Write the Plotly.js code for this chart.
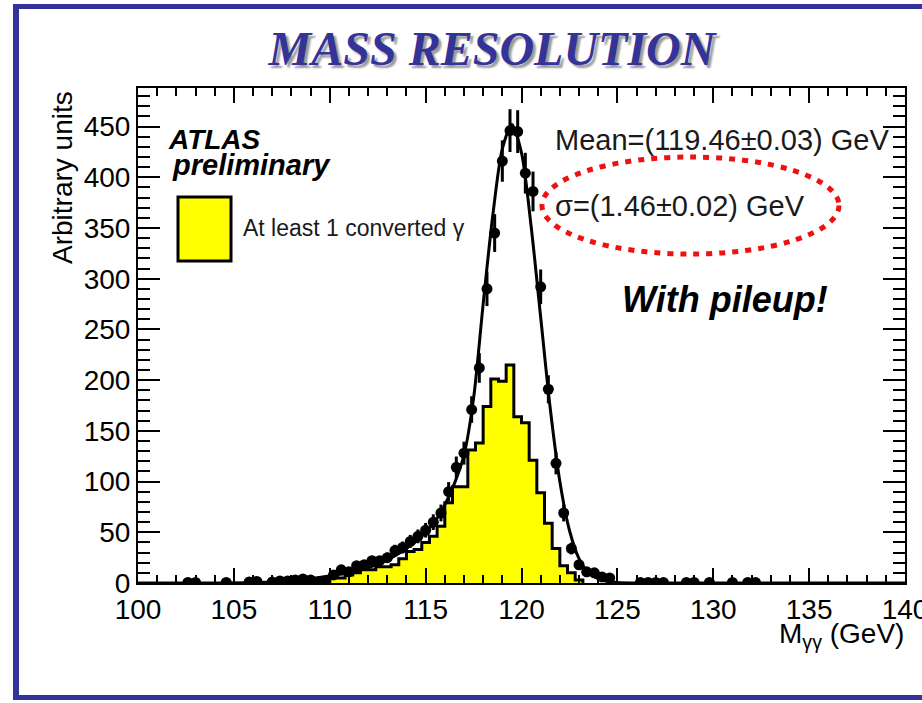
<!DOCTYPE html>
<html>
<head>
<meta charset="utf-8">
<script src="https://cdn.plot.ly/plotly-3.0.1.min.js"></script>
<style>
  html, body { margin: 0; padding: 0; background: #ffffff; }
  #chart { width: 922px; height: 703px; }
</style>
</head>
<body>
<div id="chart"></div>
<script>
// ---- data ----
// histogram "At least 1 converted gamma" (bin edges in GeV, heights)
const histEdges = [105.6,106.0,106.4,106.8,107.2,107.6,108.0,108.4,108.8,109.2,109.6,110.0,110.4,110.8,111.2,111.6,112.0,112.4,112.8,113.2,113.6,114.0,114.4,114.8,115.2,115.6,116.0,116.4,116.8,117.2,117.6,118.0,118.4,118.8,119.2,119.6,120.0,120.4,120.8,121.2,121.6,122.0,122.4,122.8,123.2];
const histHeights = [0.5,1,0.5,0.5,1,2,1,3,4,3,4,8,5,8,10,13,13,16,16,18,24,31,33,40,46,56,79,95,95,131,138,174,201,199,215,164,158,121,89,59,34,17,10,3];

// all-events data points
const ptX = [102.6,103.0,104.6,105.8,106.2,107.0,107.4,107.8,108.2,108.6,109.0,109.4,109.8,110.2,110.6,111.0,111.4,111.8,112.2,112.6,113.0,113.4,113.8,114.2,114.6,115.0,115.4,115.8,116.2,116.6,117.0,117.4,117.8,118.2,118.6,119.0,119.4,119.8,120.2,120.6,121.0,121.4,121.8,122.2,122.6,123.0,123.4,123.8,124.2,124.6,126.2,126.6,127.0,127.4,128.6,129.0,129.8,131.0,131.8,132.2];
const ptY = [0.5,0.5,0.5,1,1.5,1,2,2,3,4,3,1,2,8,13,11,17,18,22,22,25,32,35,41,46,52,60,69,90,114,128,171,212,290,345,416,446,445,404,386,292,191,118,69,34,18,11,10,6,5,0.5,0.5,0.5,0.5,0.5,0.5,0.5,0.5,0.5,0.5];
const ptErr = [0.7,0.7,0.7,1,1.2,1,1.4,1.4,1.7,2,1.7,1,1.4,2.8,3.6,3.3,4.1,4.2,4.7,4.7,5,5.7,5.9,6.4,6.8,7.2,7.7,8.3,9.5,10.7,11.3,13.1,14.6,17,18.6,20.4,21.1,21.1,20.1,19.6,17.1,13.8,10.9,8.3,5.8,4.2,3.3,3.2,2.4,2.2,0.7,0.7,0.7,0.7,0.7,0.7,0.7,0.7,0.7,0.7];

// fitted curve
const fitX = [100,104,106,108,109,110,111,112,113,113.5,114,114.5,115,115.5,116,116.5,117,117.5,118,118.5,119,119.5,120,120.5,121,121.5,122,122.5,123,123.5,124,124.5,125,126,127,140];
const fitY = [0,0,0.5,2,4,7,10,15,23,28,34,41,50,61,77,98,126,182,275,362,428,452,424,352,262,172,100,52,24,10,4,1.5,0.5,0,0,0];

// axis ticks
const xTickVals = [100,105,110,115,120,125,130,135,140];
const xTickText = ["100","105","110","115","120","125","130","135","140"];
const yTickVals = [0,50,100,150,200,250,300,350,400,450];
const yTickText = ["0","50","100","150","200","250","300","350","400","450"];

// texts
const titleText = "MASS RESOLUTION";
const yTitle = "Arbitrary units";
const xTitle = "M<sub>γγ</sub> (GeV)";
const legendText = "At least 1 converted γ";
const meanText = "Mean=(119.46±0.03) GeV";
const sigmaText = "σ=(1.46±0.02) GeV";
const pileupText = "With pileup!";

// ---- layout geometry ----
const W = 922, H = 703;
const M = {l: 138, r: 17, t: 88, b: 120};
const PW = W - M.l - M.r, PH = H - M.t - M.b;
const px2x = p => (p - M.l) / PW;
const py2y = p => (H - M.b - p) / PH;

// build histogram outline from edges/heights
const hx = [histEdges[0]];
const hy = [0];
for (let i = 0; i < histHeights.length; i++) { hx.push(histEdges[i]); hy.push(histHeights[i]); }
hx.push(histEdges[histEdges.length - 1]); hy.push(0);

const SANS = "Liberation Sans, Arial, Helvetica, sans-serif";
const BLUE = "#333399";

const traces = [
  {
    type: "scatter", mode: "lines", x: hx, y: hy,
    line: {shape: "hv", color: "black", width: 3},
    fill: "tozeroy", fillcolor: "#ffff00",
    hoverinfo: "skip", showlegend: false
  },
  {
    type: "scatter", mode: "lines", x: fitX, y: fitY,
    line: {shape: "spline", smoothing: 0.8, color: "black", width: 3},
    hoverinfo: "skip", showlegend: false
  },
  {
    type: "scatter", mode: "markers", x: ptX, y: ptY,
    marker: {color: "black", size: 11, symbol: "circle"},
    error_y: {type: "data", array: ptErr, visible: true, color: "black", thickness: 3, width: 0},
    showlegend: false
  }
];

const axisCommon = {
  showline: true, linecolor: "black", linewidth: 2, mirror: "ticks",
  ticks: "inside", tickcolor: "black", tickwidth: 2,
  showgrid: false, zeroline: false,
  ticklabeloverflow: "allow",
  tickfont: {family: SANS, size: 28, color: "black"},
};

const layout = {
  width: W, height: H,
  margin: M,
  paper_bgcolor: "white", plot_bgcolor: "white",
  showlegend: false,
  title: {
    text: "<b><i>" + titleText + "</i></b>",
    x: 492 / W, xanchor: "center", xref: "container",
    y: 1 - 48 / H, yanchor: "middle", yref: "container",
    font: {family: "Liberation Serif, Times New Roman, serif", size: 48, color: BLUE, shadow: "3px 3px 2px #9a9a9a"}
  },
  xaxis: Object.assign({}, axisCommon, {
    range: [100, 140], tickmode: "array", tickvals: xTickVals, ticktext: xTickText,
    ticklen: 15,
    minor: {dtick: 1, ticklen: 8, tickwidth: 2, tickcolor: "black", ticks: "inside", showgrid: false}
  }),
  yaxis: Object.assign({}, axisCommon, {
    range: [0, 488], tickmode: "array", tickvals: yTickVals, ticktext: yTickText,
    ticklen: 22,
    minor: {dtick: 10, ticklen: 12, tickwidth: 2, tickcolor: "black", ticks: "inside", showgrid: false}
  }),
  shapes: [
    // slide frame
    {type: "rect", xref: "paper", yref: "paper", x0: px2x(13), x1: px2x(19), y0: py2y(700), y1: py2y(4), fillcolor: BLUE, line: {width: 0}, layer: "above"},
    {type: "rect", xref: "paper", yref: "paper", x0: px2x(13), x1: px2x(922), y0: py2y(9), y1: py2y(4), fillcolor: BLUE, line: {width: 0}, layer: "above"},
    {type: "rect", xref: "paper", yref: "paper", x0: px2x(13), x1: px2x(922), y0: py2y(700), y1: py2y(695), fillcolor: BLUE, line: {width: 0}, layer: "above"},
    // legend box
    {type: "rect", xref: "paper", yref: "paper", x0: px2x(178), x1: px2x(231), y0: py2y(261), y1: py2y(197), fillcolor: "#ffff00", line: {color: "black", width: 3}, layer: "above"},
    // red dotted ellipse
    {type: "circle", xref: "paper", yref: "paper", x0: px2x(542), x1: px2x(839), y0: py2y(254), y1: py2y(157), line: {color: "#ee1111", width: 5, dash: "6px,7px"}, layer: "above"}
  ],
  annotations: [
    {text: yTitle, xref: "paper", yref: "paper", x: px2x(63), y: py2y(178), xanchor: "center", yanchor: "middle", textangle: -90, showarrow: false, font: {family: SANS, size: 28, color: "black"}},
    {text: xTitle, xref: "paper", yref: "paper", x: px2x(906), y: py2y(616), xanchor: "right", yanchor: "top", showarrow: false, font: {family: SANS, size: 28, color: "black"}},
    {text: "<b><i>ATLAS</i></b>", xref: "paper", yref: "paper", x: px2x(166), y: py2y(139), xanchor: "left", yanchor: "middle", showarrow: false, font: {family: SANS, size: 28, color: "black"}},
    {text: "<b><i>preliminary</i></b>", xref: "paper", yref: "paper", x: px2x(170), y: py2y(165), xanchor: "left", yanchor: "middle", showarrow: false, font: {family: SANS, size: 29, color: "black"}},
    {text: legendText, xref: "paper", yref: "paper", x: px2x(241), y: py2y(228), xanchor: "left", yanchor: "middle", showarrow: false, font: {family: SANS, size: 23, color: "#1a1a1a"}},
    {text: meanText, xref: "paper", yref: "paper", x: px2x(553), y: py2y(140), xanchor: "left", yanchor: "middle", showarrow: false, font: {family: SANS, size: 29, color: "#1a1a1a"}},
    {text: sigmaText, xref: "paper", yref: "paper", x: px2x(553), y: py2y(206), xanchor: "left", yanchor: "middle", showarrow: false, font: {family: SANS, size: 29, color: "#1a1a1a"}},
    {text: "<b><i>" + pileupText + "</i></b>", xref: "paper", yref: "paper", x: px2x(725), y: py2y(299), xanchor: "center", yanchor: "middle", showarrow: false, font: {family: SANS, size: 36, color: "black"}}
  ]
};

Plotly.newPlot("chart", traces, layout, {staticPlot: true, displayModeBar: false});
</script>
</body>
</html>
